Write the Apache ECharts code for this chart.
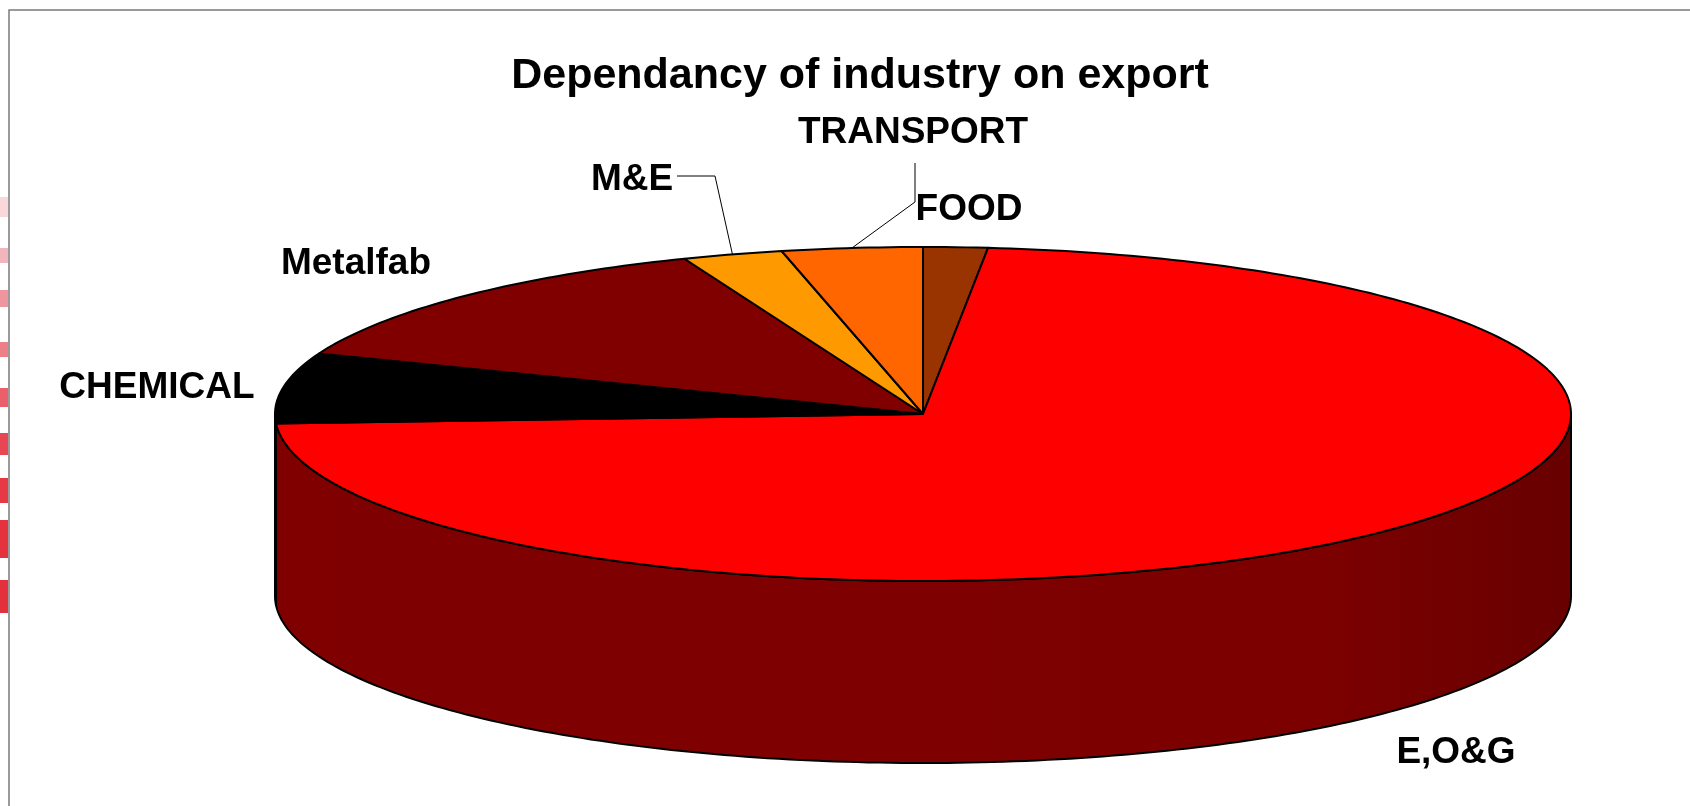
<!DOCTYPE html>
<html>
<head>
<meta charset="utf-8">
<script src="https://cdn.jsdelivr.net/npm/echarts@6/dist/echarts.min.js"></script>
<style>
  html, body { margin: 0; padding: 0; background: #fff; }
  #chart { width: 1690px; height: 806px; }
</style>
</head>
<body>
<div id="chart"></div>
<script>
// slices, clockwise from 12 o'clock (share of export, %)
var sectors = ['FOOD', 'E,O&G', 'CHEMICAL', 'Metalfab', 'M&E', 'TRANSPORT'];
var shares = [1.6, 72.5, 6.8, 13.1, 2.5, 3.5];
var topColors = ['#993300', '#ff0000', '#000000', '#800000', '#ff9900', '#ff6600'];
var sideColors = ['#4d1a00', '#800000', '#000000', '#400000', '#804d00', '#803300'];

// layout of the 3d pie (pixels)
var cx = 923, cy = 414, rx = 648, ry = 167, depth = 182;
// label centres and leader elbows
var labelAt = [[969, 210], [1456, 753], [157, 388], [356, 264], [632, 180], [913, 133]];
var leaders = [null, null, null, null, [[677, 176], [715, 176]], [[915, 163], [915, 202]]];

var total = shares.reduce(function (a, b) { return a + b; }, 0);
var starts = [];
var acc = 0;
shares.forEach(function (v) { starts.push(acc / total * Math.PI * 2); acc += v; });

function rim(t, dz) {
  return [cx + rx * Math.sin(t), cy - ry * Math.cos(t) + (dz || 0)];
}
function arc(a, b, dz) {
  var pts = [];
  var n = Math.max(2, Math.ceil((b - a) / (Math.PI / 180)));
  for (var i = 0; i <= n; i++) pts.push(rim(a + (b - a) * i / n, dz));
  return pts;
}
function sliceRange(i, api) {
  var a0 = starts[i];
  return [a0, a0 + api.value(0) / total * Math.PI * 2];
}

function renderSide(params, api) {
  var i = params.dataIndex;
  var r = sliceRange(i, api);
  var a = Math.max(r[0], Math.PI / 2), b = Math.min(r[1], Math.PI * 1.5);
  if (b <= a) return { type: 'group', children: [] };
  var pts = arc(a, b, 0).concat(arc(a, b, depth).reverse());
  var fill = sideColors[i];
  if (i === 1) {
    fill = new echarts.graphic.LinearGradient(0, 0, 1, 0, [
      { offset: 0, color: '#800000' },
      { offset: 0.8, color: '#7d0000' },
      { offset: 1, color: '#680000' }
    ]);
  }
  return {
    type: 'polygon',
    shape: { points: pts },
    style: { fill: fill, stroke: '#000', lineWidth: 2 }
  };
}

function renderTop(params, api) {
  var i = params.dataIndex;
  var r = sliceRange(i, api);
  var pts = [[cx, cy]].concat(arc(r[0], r[1], 0));
  var children = [{
    type: 'polygon',
    shape: { points: pts },
    style: { fill: topColors[i], stroke: '#000', lineWidth: 2, lineJoin: 'round' }
  }];
  if (leaders[i]) {
    children.push({
      type: 'polyline',
      shape: { points: leaders[i].concat([rim((r[0] + r[1]) / 2, 0)]) },
      style: { stroke: '#000', lineWidth: 1, fill: null }
    });
  }
  children.push({
    type: 'text',
    x: labelAt[i][0],
    y: labelAt[i][1],
    style: {
      text: sectors[i],
      fontFamily: '"Liberation Sans", Arial, sans-serif',
      fontWeight: 'bold',
      fontSize: 37,
      fill: '#000',
      align: 'center',
      verticalAlign: 'middle'
    }
  });
  return { type: 'group', children: children };
}

// faded red stripes of the slide behind, on the far left
var stripes = [[197, 217, '#f9d7da'], [248, 263, '#f3b5bb'], [290, 307, '#ef959d'], [342, 357, '#ec7f88'],
  [388, 407, '#ea5f6a'], [433, 455, '#e84653'], [478, 503, '#e63945'], [520, 558, '#e5323f'], [580, 613, '#e4303c']];

var myChart = echarts.init(document.getElementById('chart'));
var data = shares.map(function (v, i) { return { name: sectors[i], value: [v] }; });

var option = {
  animation: false,
  backgroundColor: '#fff',
  title: {
    text: 'Dependancy of industry on export',
    left: 855,
    top: 50,
    textAlign: 'center',
    textStyle: { fontFamily: '"Liberation Sans", Arial, sans-serif', fontWeight: 'bold', fontSize: 43, color: '#000' }
  },
  graphic: stripes.map(function (s) {
    return { type: 'rect', shape: { x: 0, y: s[0], width: 8, height: s[1] - s[0] }, style: { fill: s[2] } };
  }).concat([{
    type: 'rect',
    shape: { x: 9, y: 10, width: 2000, height: 2000 },
    style: { fill: null, stroke: '#7a7a7a', lineWidth: 1.5 }
  }]),
  series: [
    { type: 'custom', coordinateSystem: 'none', renderItem: renderSide, data: data, z: 1 },
    { type: 'custom', coordinateSystem: 'none', renderItem: renderTop, data: data, z: 2 }
  ]
};
myChart.setOption(option);
</script>
</body>
</html>
